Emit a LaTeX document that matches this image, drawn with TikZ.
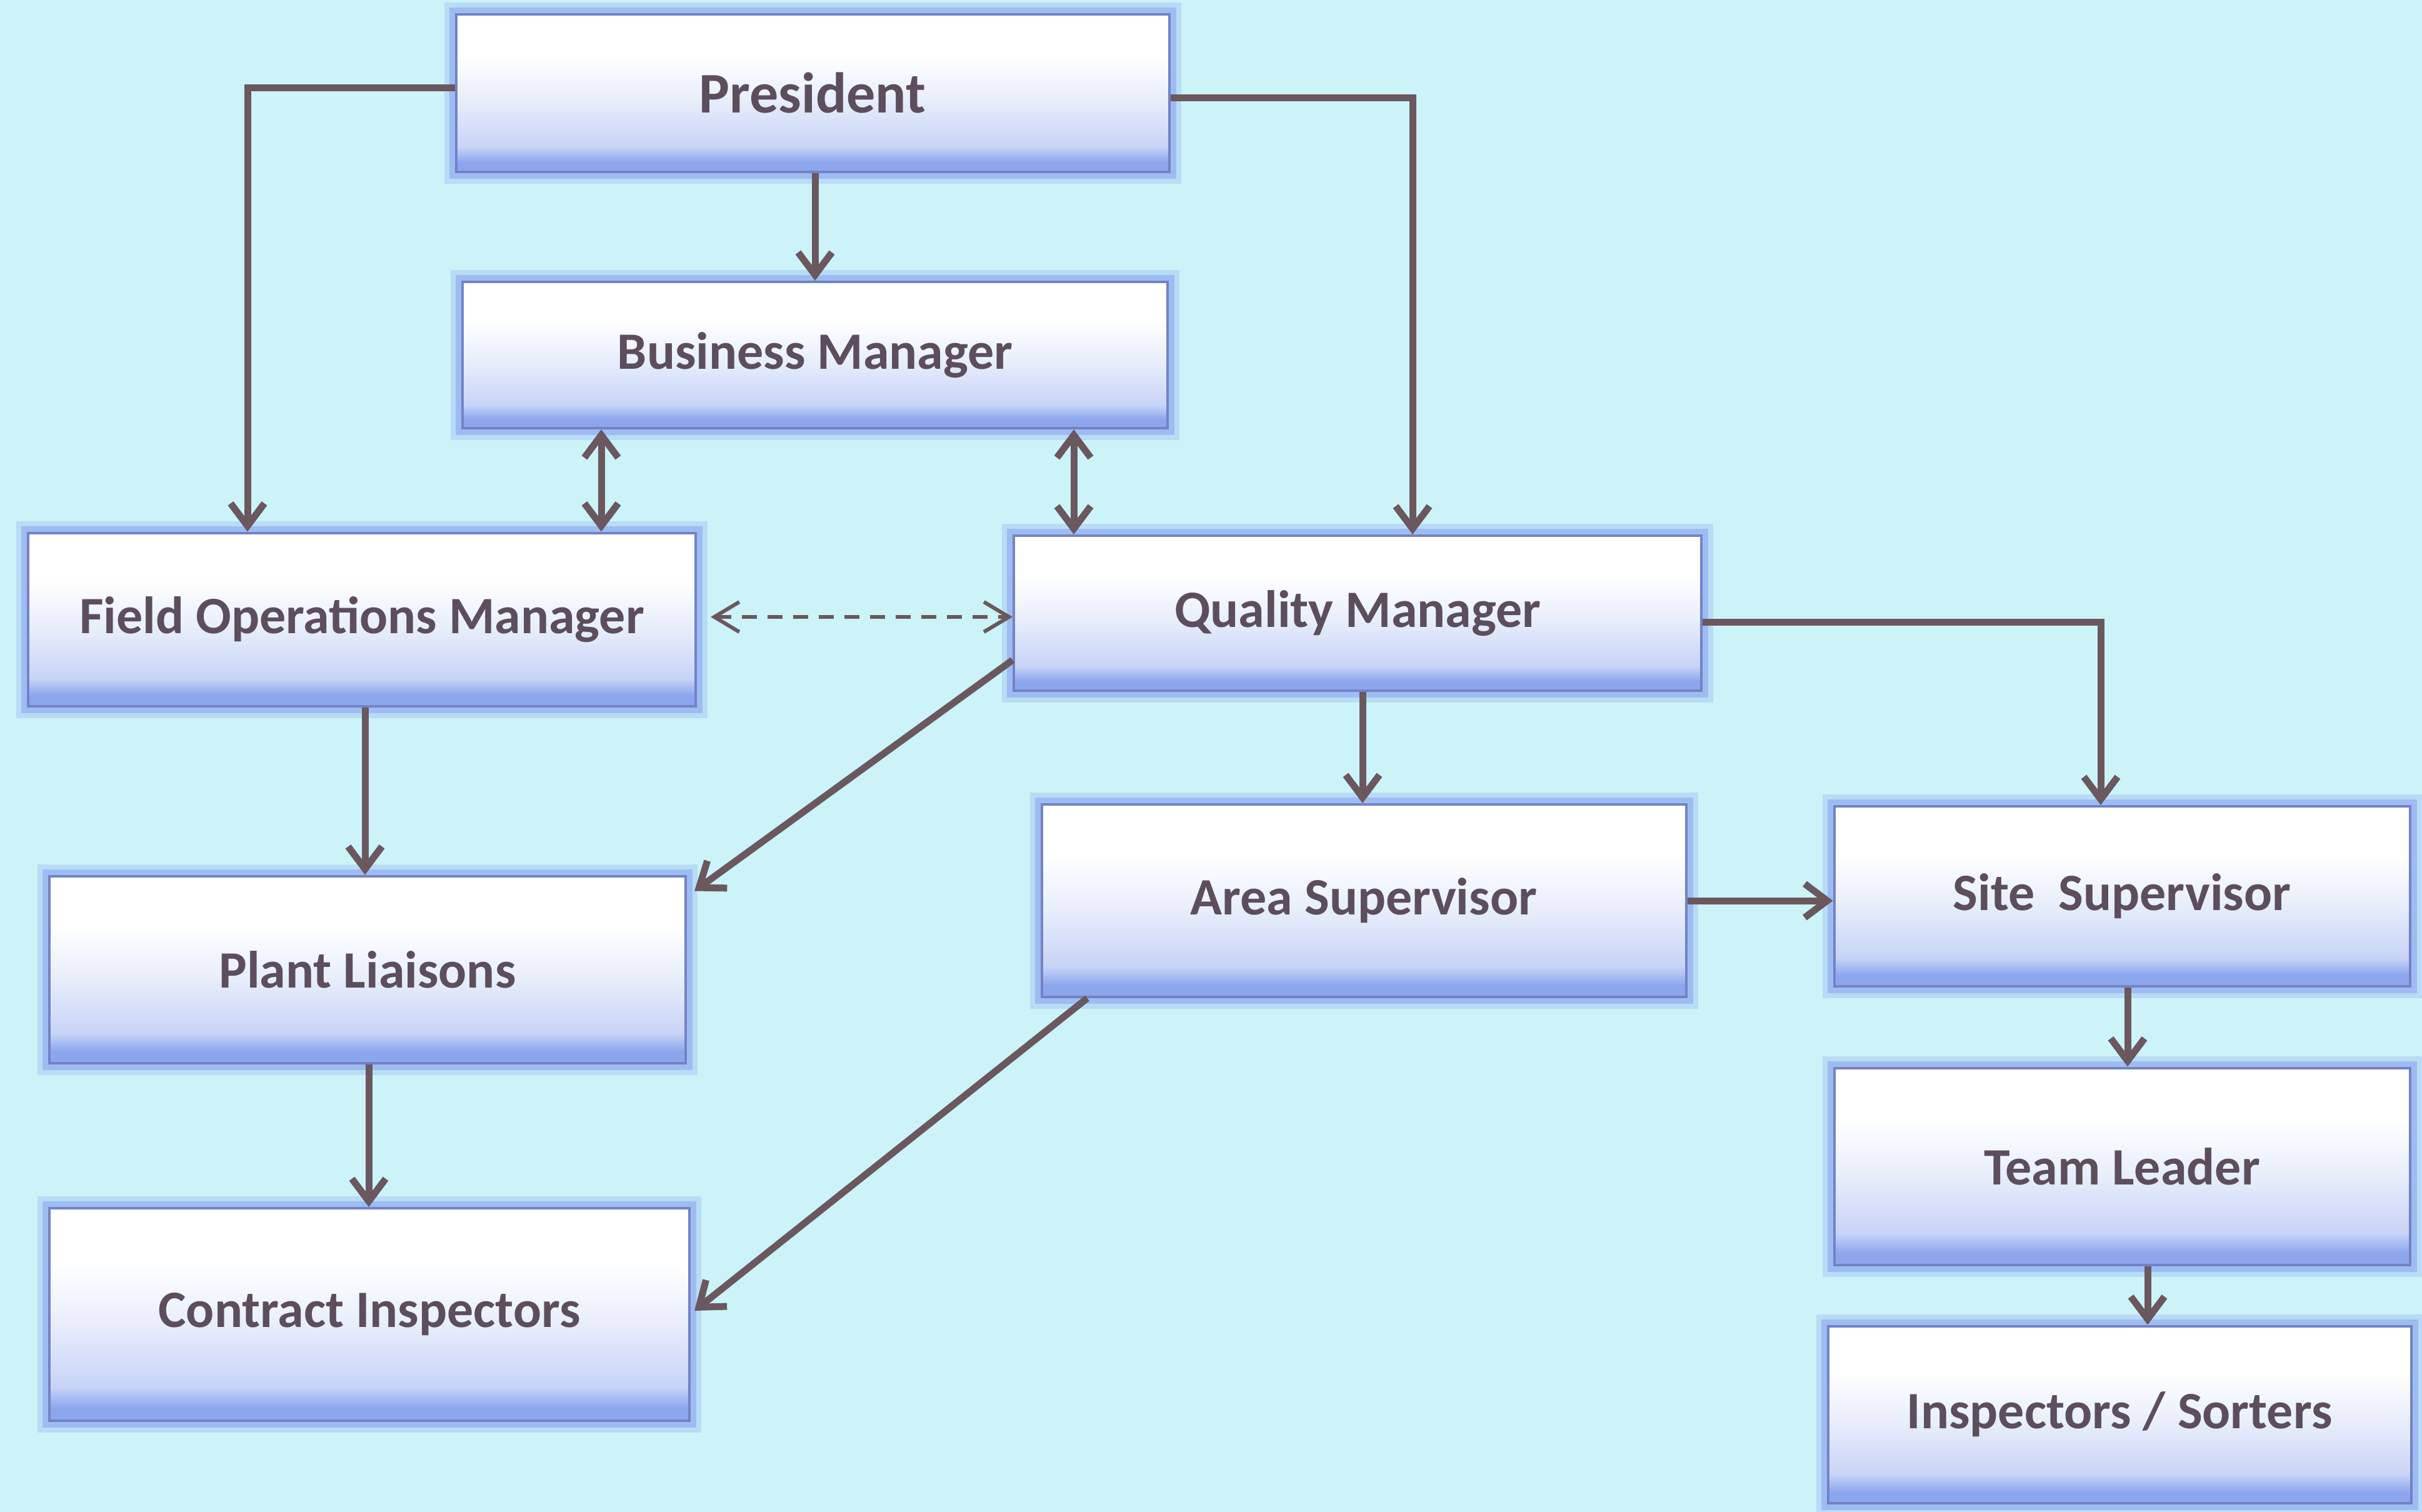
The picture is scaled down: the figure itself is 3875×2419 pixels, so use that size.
\documentclass[tikz,border=0pt]{standalone}
\usepackage{fontspec}
\setmainfont{Carlito}
\usetikzlibrary{arrows.meta,calc}
\definecolor{bgc}{HTML}{CCF3F7}
\definecolor{txt}{HTML}{5C4E5D}
\definecolor{connc}{HTML}{6A585E}
\definecolor{boxedge}{HTML}{7482C4}
\definecolor{boxbot}{HTML}{8CA6EE}
\definecolor{boxmid}{HTML}{C8D4F7}
\definecolor{boxlt}{HTML}{E8EEFB}
\definecolor{glow}{HTML}{8CA8F2}
\pgfdeclareverticalshading{boxshade}{100bp}{color(0bp)=(boxbot); color(25bp)=(boxbot); color(28bp)=(boxbot); color(33bp)=(boxmid); color(48bp)=(boxlt); color(62bp)=(white); color(100bp)=(white)}
\tikzset{
  orgbox/.style={draw=boxedge, line width=4pt, shading=boxshade, inner sep=0pt,
    text=txt, font=\fontsize{84}{90}\selectfont\bfseries,
    preaction={draw=glow, line width=38pt, draw opacity=0.3},
    preaction={draw=glow, line width=22pt, draw opacity=0.6}},
  conn/.style={draw=connc, line width=11pt, -{Straight Barb[length=36pt,width=54pt]}},
  dbl/.style={draw=connc, line width=11pt, {Straight Barb[length=36pt,width=54pt]}-{Straight Barb[length=36pt,width=54pt]}},
  dashconn/.style={draw=connc, line width=6pt, dash pattern=on 24pt off 17pt,
    {Straight Barb[length=40pt,width=48pt]}-{Straight Barb[length=40pt,width=48pt]}}
}
\begin{document}
\begin{tikzpicture}[x=1pt,y=-1pt]
\useasboundingbox (0,0) rectangle (3875,2419);
\fill[bgc] (0,0) rectangle (3875,2419);

\node[orgbox, minimum width=1141pt, minimum height=252pt, font=\fontsize{92}{98}\selectfont\bfseries] (pres) at (1300,149) {President};
\node[orgbox, minimum width=1128pt, minimum height=234pt] (bm) at (1304,568) {Business Manager};
\node[orgbox, minimum width=1068pt, minimum height=277pt] (fom) at (579,991) {Field Operations Manager};
\node[orgbox, minimum width=1100pt, minimum height=248pt] (qm) at (2172,981) {Quality Manager};
\node[orgbox, minimum width=1018pt, minimum height=299pt] (pl) at (588,1551) {Plant Liaisons};
\node[orgbox, minimum width=1031pt, minimum height=308pt] (asup) at (2182,1441) {Area Supervisor};
\node[orgbox, minimum width=921pt, minimum height=288pt] (ss) at (3395,1434) {Site\ \ Supervisor};
\node[orgbox, minimum width=921pt, minimum height=315pt] (tl) at (3395,1866) {Team Leader};
\node[orgbox, minimum width=933pt, minimum height=283pt] (isort) at (3391,2263) {Inspectors / Sorters};
\node[orgbox, minimum width=1024pt, minimum height=340pt] (ci) at (591,2103) {Contract Inspectors};

\draw[conn] ([yshift=8pt]pres.west) -| ([xshift=-183pt]fom.north);
\draw[conn] (bm.north |- pres.south) -- (bm.north);
\coordinate (c1) at ([xshift=-342pt]bm.south);
\draw[dbl] (c1) -- (c1 |- fom.north);
\coordinate (c2) at ([xshift=98pt]qm.north west);
\draw[dbl] (bm.south -| c2) -- (c2);
\coordinate (c3) at ([xshift=22pt,yshift=4pt]fom.east);
\draw[dashconn] (c3) -- (c3 -| qm.west);
\draw[conn] ([yshift=-8pt]pres.east) -| ([xshift=88pt]qm.north);
\draw[conn] ([yshift=-75pt]qm.west) -- ([xshift=12pt,yshift=-26pt]pl.north east);
\coordinate (c4) at ([xshift=5pt]fom.south);
\draw[conn] (c4) -- (c4 |- pl.north);
\coordinate (c5) at ([xshift=2pt]pl.south);
\draw[conn] (c5) -- (c5 |- ci.north);
\draw[conn] ([xshift=75pt]asup.south west) -- ([xshift=6pt,yshift=6pt]ci.east);
\coordinate (c6) at ([xshift=8pt]qm.south);
\draw[conn] (c6) -- (c6 |- asup.north);
\draw[conn] ([yshift=-14pt]qm.east) -| ([xshift=-34pt]ss.north);
\draw[conn] (asup.east) -- (asup.east -| ss.west);
\coordinate (c7) at ([xshift=9pt]ss.south);
\draw[conn] (c7) -- (c7 |- tl.north);
\coordinate (c8) at ([xshift=41pt]tl.south);
\draw[conn] (c8) -- (c8 |- isort.north);
\end{tikzpicture}
\end{document}
